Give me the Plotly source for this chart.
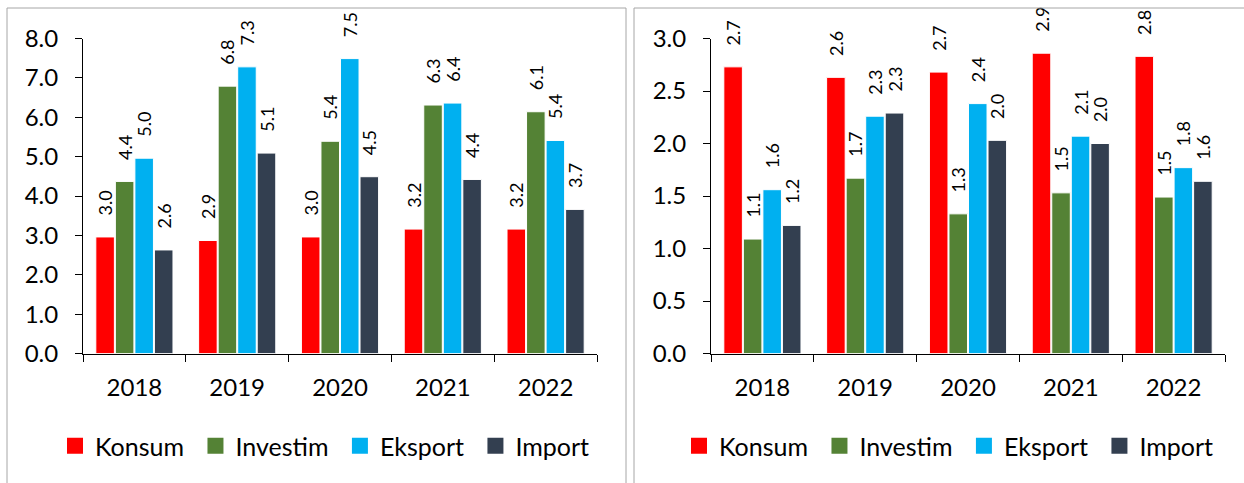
import plotly.graph_objects as go

years = ["2018", "2019", "2020", "2021", "2022"]
series_names = ["Konsum", "Investim", "Eksport", "Import"]
colors = ["#FF0000", "#548235", "#00B0F0", "#333F50"]

# Left panel values
left_konsum = [2.96, 2.87, 2.96, 3.16, 3.16]
left_investim = [4.37, 6.79, 5.39, 6.31, 6.14]
left_eksport = [4.96, 7.28, 7.49, 6.36, 5.41]
left_import = [2.63, 5.09, 4.49, 4.42, 3.66]

# Right panel values
right_konsum = [2.73, 2.63, 2.68, 2.86, 2.83]
right_investim = [1.09, 1.67, 1.33, 1.53, 1.49]
right_eksport = [1.56, 2.26, 2.38, 2.07, 1.77]
right_import = [1.22, 2.29, 2.03, 2.00, 1.64]

left_ticks = [0, 1, 2, 3, 4, 5, 6, 7, 8]
right_ticks = [0, 0.5, 1.0, 1.5, 2.0, 2.5, 3.0]

W, H = 1244, 483
YTICK_FONT = dict(family="Lato", size=24, color="#000000")
XTICK_FONT = dict(family="Lato", size=24, color="#000000")
LABEL_FONT = dict(family="Lato", size=18, color="#000000")
LEGEND_FONT = dict(family="Lato", size=25, color="#000000")
NBSP = "\u00a0"

fig = go.Figure()

left_data = [left_konsum, left_investim, left_eksport, left_import]
right_data = [right_konsum, right_investim, right_eksport, right_import]

for xa, ya, data in (("x", "y", left_data), ("x2", "y2", right_data)):
    for name, col, vals in zip(series_names, colors, data):
        fig.add_trace(go.Bar(
            x=years, y=vals, name=name, xaxis=xa, yaxis=ya,
            marker=dict(color=col, line=dict(color="white", width=1)),
            texttemplate=NBSP * 4 + "%{y:.1f}", textposition="outside",
            textangle=-90, textfont=LABEL_FONT, cliponaxis=False,
            constraintext="none", showlegend=False, offsetgroup=name,
        ))

# legend entries (square symbols)
for leg, xa, ya in (("legend", "x", "y"), ("legend2", "x2", "y2")):
    for i, (name, col) in enumerate(zip(series_names, colors)):
        label = name if i == len(series_names) - 1 else name + NBSP
        fig.add_trace(go.Scatter(
            x=[None], y=[None], mode="markers", name=label, legend=leg,
            xaxis=xa, yaxis=ya,
            marker=dict(symbol="square", size=16, color=col),
            showlegend=True, hoverinfo="skip",
        ))

ydom = [1 - 353.5 / H, 1 - 38.5 / H]
axis_common = dict(showline=True, linecolor="#000000", linewidth=1,
                   ticks="outside", ticklen=7, tickcolor="#000000",
                   showgrid=False, zeroline=False, automargin=False)

fig.update_layout(
    width=W, height=H,
    margin=dict(l=0, r=0, t=0, b=0, autoexpand=False),
    paper_bgcolor="white", plot_bgcolor="white",
    barmode="group", bargap=0.24, bargroupgap=0.05,
    xaxis=dict(domain=[83 / W, 597 / W], type="category", tickson="boundaries",
               anchor="y", ticklabelstandoff=13, tickfont=XTICK_FONT, **axis_common),
    yaxis=dict(domain=ydom, range=[0, 8], tickvals=left_ticks, tickformat=".1f",
               anchor="x", ticklabelstandoff=12, tickfont=YTICK_FONT, **axis_common),
    xaxis2=dict(domain=[711 / W, 1225 / W], type="category", tickson="boundaries",
                anchor="y2", ticklabelstandoff=13, tickfont=XTICK_FONT, **axis_common),
    yaxis2=dict(domain=ydom, range=[0, 3], tickvals=right_ticks, tickformat=".1f",
                anchor="x2", ticklabelstandoff=12, tickfont=YTICK_FONT, **axis_common),
    legend=dict(orientation="h", x=325 / W, y=1 - 446 / H, xanchor="center",
                yanchor="middle", font=LEGEND_FONT,
                bgcolor="rgba(0,0,0,0)", itemwidth=30, tracegroupgap=0),
    legend2=dict(orientation="h", x=949 / W, y=1 - 446 / H, xanchor="center",
                 yanchor="middle", font=LEGEND_FONT,
                 bgcolor="rgba(0,0,0,0)", itemwidth=30, tracegroupgap=0),
    shapes=[
        dict(type="rect", xref="paper", yref="paper",
             x0=7 / W, x1=626 / W, y0=-0.05, y1=1 - 8 / H,
             line=dict(color="#A6A6A6", width=1), fillcolor="rgba(0,0,0,0)"),
        dict(type="rect", xref="paper", yref="paper",
             x0=634 / W, x1=1.05, y0=-0.05, y1=1 - 8 / H,
             line=dict(color="#A6A6A6", width=1), fillcolor="rgba(0,0,0,0)"),
    ],
)

fig.write_html("out.html", config={"displayModeBar": False},
               post_script="document.body.style.margin='0px';document.body.style.overflow='hidden';")
